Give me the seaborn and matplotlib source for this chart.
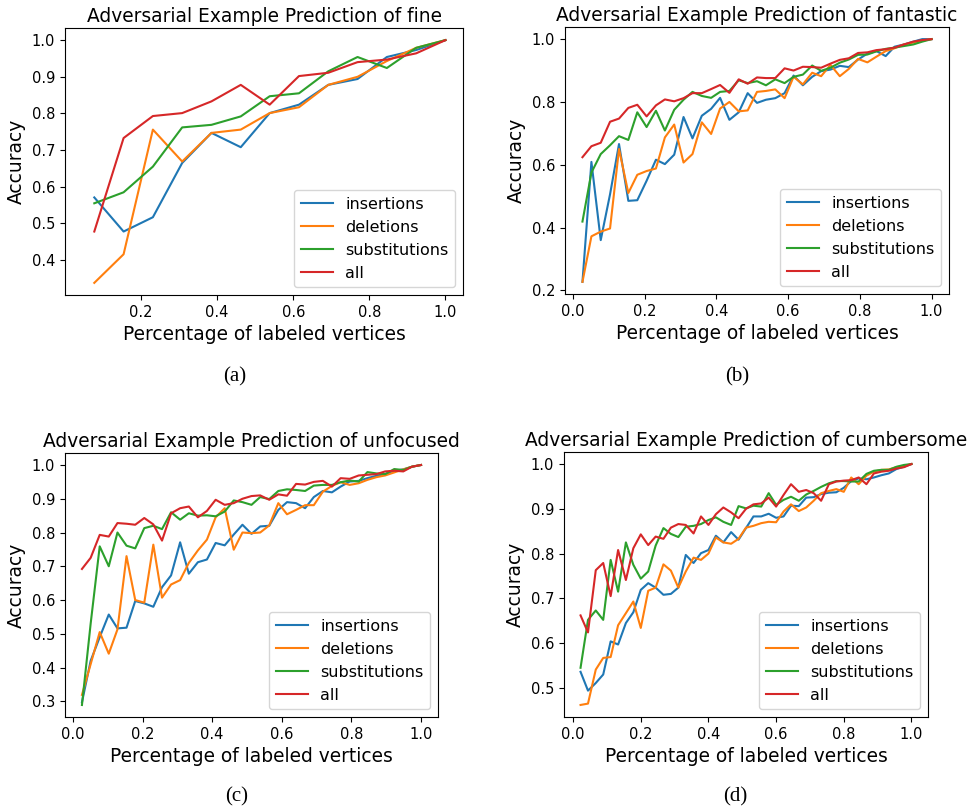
import numpy as np
import pandas as pd
import matplotlib
matplotlib.use("Agg")
import matplotlib.pyplot as plt
import seaborn as sns

METHODS = ["insertions", "deletions", "substitutions", "all"]
COLORS = sns.color_palette("tab10", 4)

# x positions (fraction of labeled vertices)
x_fine = [0.077, 0.154, 0.231, 0.308, 0.385, 0.462, 0.538, 0.615, 0.692, 0.769,
          0.846, 0.923, 1.0]
x_39 = [0.026, 0.051, 0.077, 0.103, 0.128, 0.154, 0.179, 0.205, 0.231, 0.256,
        0.282, 0.308, 0.333, 0.359, 0.385, 0.410, 0.436, 0.462, 0.487, 0.513,
        0.538, 0.564, 0.590, 0.615, 0.641, 0.667, 0.692, 0.718, 0.744, 0.769,
        0.795, 0.821, 0.846, 0.872, 0.897, 0.923, 0.949, 0.974, 1.0]
x_45 = [0.022, 0.044, 0.067, 0.089, 0.111, 0.133, 0.156, 0.178, 0.200, 0.222,
        0.244, 0.267, 0.289, 0.311, 0.333, 0.356, 0.378, 0.400, 0.422, 0.444,
        0.467, 0.489, 0.511, 0.533, 0.556, 0.578, 0.600, 0.622, 0.644, 0.667,
        0.689, 0.711, 0.733, 0.756, 0.778, 0.800, 0.822, 0.844, 0.867, 0.889,
        0.911, 0.933, 0.956, 0.978, 1.0]

# (a) fine
ins_a = [0.571, 0.478, 0.517, 0.665, 0.747, 0.708, 0.801, 0.824, 0.878, 0.894, 0.954, 0.973, 1.0]
del_a = [0.338, 0.416, 0.756, 0.669, 0.747, 0.756, 0.801, 0.817, 0.878, 0.900, 0.943, 0.979, 1.0]
sub_a = [0.555, 0.585, 0.655, 0.762, 0.769, 0.792, 0.847, 0.855, 0.915, 0.954, 0.924, 0.979, 1.0]
all_a = [0.478, 0.733, 0.793, 0.801, 0.833, 0.878, 0.824, 0.902, 0.911, 0.940, 0.947, 0.964, 1.0]

# (b) fantastic
ins_b = [0.227, 0.609, 0.360, 0.506, 0.666, 0.485, 0.487, 0.549, 0.616, 0.602,
         0.632, 0.752, 0.684, 0.756, 0.778, 0.813, 0.743, 0.767, 0.828, 0.797,
         0.807, 0.812, 0.828, 0.884, 0.853, 0.880, 0.898, 0.903, 0.915, 0.911,
         0.935, 0.954, 0.962, 0.946, 0.976, 0.983, 0.992, 1.0, 1.0]
del_b = [0.227, 0.372, 0.387, 0.397, 0.650, 0.510, 0.568, 0.580, 0.588, 0.687,
         0.728, 0.607, 0.634, 0.735, 0.698, 0.779, 0.800, 0.770, 0.773, 0.832,
         0.835, 0.840, 0.812, 0.880, 0.856, 0.893, 0.882, 0.918, 0.882, 0.905,
         0.937, 0.926, 0.944, 0.962, 0.971, 0.983, 0.989, 0.995, 1.0]
sub_b = [0.419, 0.575, 0.634, 0.662, 0.691, 0.679, 0.767, 0.720, 0.772, 0.709,
         0.775, 0.807, 0.832, 0.819, 0.813, 0.832, 0.835, 0.869, 0.860, 0.866,
         0.853, 0.872, 0.860, 0.880, 0.887, 0.916, 0.899, 0.909, 0.925, 0.935,
         0.950, 0.951, 0.961, 0.969, 0.973, 0.978, 0.983, 0.992, 1.0]
all_b = [0.624, 0.659, 0.670, 0.737, 0.747, 0.781, 0.791, 0.754, 0.789, 0.808,
         0.802, 0.812, 0.828, 0.828, 0.841, 0.854, 0.829, 0.872, 0.858, 0.878,
         0.876, 0.876, 0.907, 0.900, 0.912, 0.911, 0.909, 0.922, 0.934, 0.939,
         0.956, 0.958, 0.965, 0.968, 0.973, 0.983, 0.992, 0.997, 1.0]

# (c) unfocused
ins_c = [0.297, 0.420, 0.490, 0.557, 0.516, 0.518, 0.597, 0.590, 0.580, 0.638,
         0.673, 0.771, 0.678, 0.712, 0.720, 0.769, 0.762, 0.794, 0.823, 0.796,
         0.818, 0.820, 0.867, 0.890, 0.887, 0.872, 0.905, 0.923, 0.919, 0.936,
         0.951, 0.953, 0.961, 0.968, 0.973, 0.983, 0.987, 0.995, 1.0]
del_c = [0.319, 0.410, 0.505, 0.441, 0.513, 0.730, 0.600, 0.592, 0.764, 0.607,
         0.646, 0.659, 0.710, 0.747, 0.779, 0.845, 0.872, 0.749, 0.800, 0.798,
         0.800, 0.821, 0.887, 0.854, 0.867, 0.881, 0.881, 0.921, 0.938, 0.949,
         0.941, 0.946, 0.956, 0.964, 0.969, 0.978, 0.987, 0.995, 1.0]
sub_c = [0.289, 0.530, 0.759, 0.700, 0.800, 0.761, 0.753, 0.813, 0.820, 0.810,
         0.860, 0.838, 0.857, 0.850, 0.851, 0.848, 0.862, 0.895, 0.890, 0.882,
         0.905, 0.899, 0.923, 0.928, 0.926, 0.923, 0.939, 0.941, 0.941, 0.949,
         0.954, 0.951, 0.979, 0.975, 0.973, 0.988, 0.985, 0.995, 1.0]
all_c = [0.692, 0.725, 0.793, 0.788, 0.828, 0.826, 0.823, 0.843, 0.824, 0.776,
         0.857, 0.872, 0.877, 0.845, 0.864, 0.897, 0.882, 0.887, 0.900, 0.908,
         0.910, 0.897, 0.913, 0.909, 0.944, 0.942, 0.950, 0.953, 0.936, 0.961,
         0.959, 0.969, 0.971, 0.973, 0.981, 0.983, 0.981, 0.995, 1.0]

# (d) cumbersome
ins_d = [0.536, 0.494, 0.511, 0.530, 0.604, 0.597, 0.645, 0.669, 0.719, 0.734,
         0.724, 0.708, 0.710, 0.724, 0.797, 0.779, 0.801, 0.808, 0.840, 0.825,
         0.848, 0.831, 0.857, 0.883, 0.883, 0.889, 0.880, 0.883, 0.907, 0.906,
         0.925, 0.926, 0.933, 0.936, 0.937, 0.947, 0.962, 0.968, 0.966, 0.970,
         0.975, 0.979, 0.989, 0.994, 1.0]
del_d = [0.462, 0.465, 0.541, 0.567, 0.569, 0.640, 0.667, 0.693, 0.634, 0.717,
         0.724, 0.776, 0.762, 0.724, 0.760, 0.791, 0.786, 0.800, 0.836, 0.825,
         0.822, 0.833, 0.858, 0.862, 0.868, 0.871, 0.870, 0.894, 0.910, 0.895,
         0.903, 0.918, 0.935, 0.940, 0.944, 0.938, 0.970, 0.955, 0.974, 0.983,
         0.987, 0.988, 0.993, 0.996, 1.0]
sub_d = [0.545, 0.652, 0.673, 0.652, 0.786, 0.715, 0.825, 0.775, 0.744, 0.760,
         0.818, 0.857, 0.844, 0.837, 0.860, 0.862, 0.866, 0.875, 0.881, 0.871,
         0.864, 0.906, 0.901, 0.907, 0.905, 0.935, 0.909, 0.920, 0.927, 0.918,
         0.932, 0.940, 0.949, 0.957, 0.962, 0.962, 0.961, 0.961, 0.978, 0.985,
         0.987, 0.987, 0.994, 0.998, 1.0]
all_d = [0.662, 0.624, 0.763, 0.779, 0.705, 0.808, 0.741, 0.812, 0.843, 0.819,
         0.838, 0.833, 0.858, 0.866, 0.864, 0.845, 0.883, 0.864, 0.888, 0.903,
         0.892, 0.879, 0.900, 0.910, 0.912, 0.925, 0.905, 0.931, 0.955, 0.938,
         0.942, 0.935, 0.918, 0.955, 0.961, 0.963, 0.964, 0.970, 0.955, 0.979,
         0.983, 0.985, 0.990, 0.993, 1.0]

panels = [
    ("fine", x_fine, [ins_a, del_a, sub_a, all_a], "(a)"),
    ("fantastic", x_39, [ins_b, del_b, sub_b, all_b], "(b)"),
    ("unfocused", x_39, [ins_c, del_c, sub_c, all_c], "(c)"),
    ("cumbersome", x_45, [ins_d, del_d, sub_d, all_d], "(d)"),
]

W, H = 972, 811
# axes boxes in pixels: left, top, right, bottom
boxes = [(65, 28, 463, 295), (565, 27, 949, 294), (65, 453, 438, 717), (564, 452, 928, 717)]
captions_xy = [(235, 377), (737, 377), (237, 797), (735, 797)]

fig = plt.figure(figsize=(W / 100, H / 100), dpi=100)

for (word, xs, series, cap), (l, t, r, b), (cx, cy) in zip(panels, boxes, captions_xy):
    ax = fig.add_axes([l / W, 1 - b / H, (r - l) / W, (b - t) / H])
    df = pd.concat(
        [pd.DataFrame({"x": xs, "acc": vals, "method": m}) for m, vals in zip(METHODS, series)],
        ignore_index=True,
    )
    sns.lineplot(data=df, x="x", y="acc", hue="method", hue_order=METHODS,
                 palette=COLORS, estimator=None, errorbar=None, linewidth=1.5, ax=ax)
    sns.move_legend(ax, "lower right", title=None, fontsize=11.5)
    ax.set_title(f"Adversarial Example Prediction of {word}", fontsize=13.4, pad=4)
    ax.set_xlabel("Percentage of labeled vertices", fontsize=13.4)
    ax.set_ylabel("Accuracy", fontsize=13.4)
    ax.set_xticks([0.0, 0.2, 0.4, 0.6, 0.8, 1.0])
    ax.tick_params(labelsize=10.5)
    fig.text(cx / W, 1 - cy / H, cap, ha="center", va="center",
             fontsize=15, family="Liberation Serif")

# panel (a) has no 0.0 tick, panel (b) uses 0.2 steps on y
fig.axes[0].set_xticks([0.2, 0.4, 0.6, 0.8, 1.0])
fig.axes[1].set_yticks([0.2, 0.4, 0.6, 0.8, 1.0])

plt.savefig("out.png", dpi=100)
